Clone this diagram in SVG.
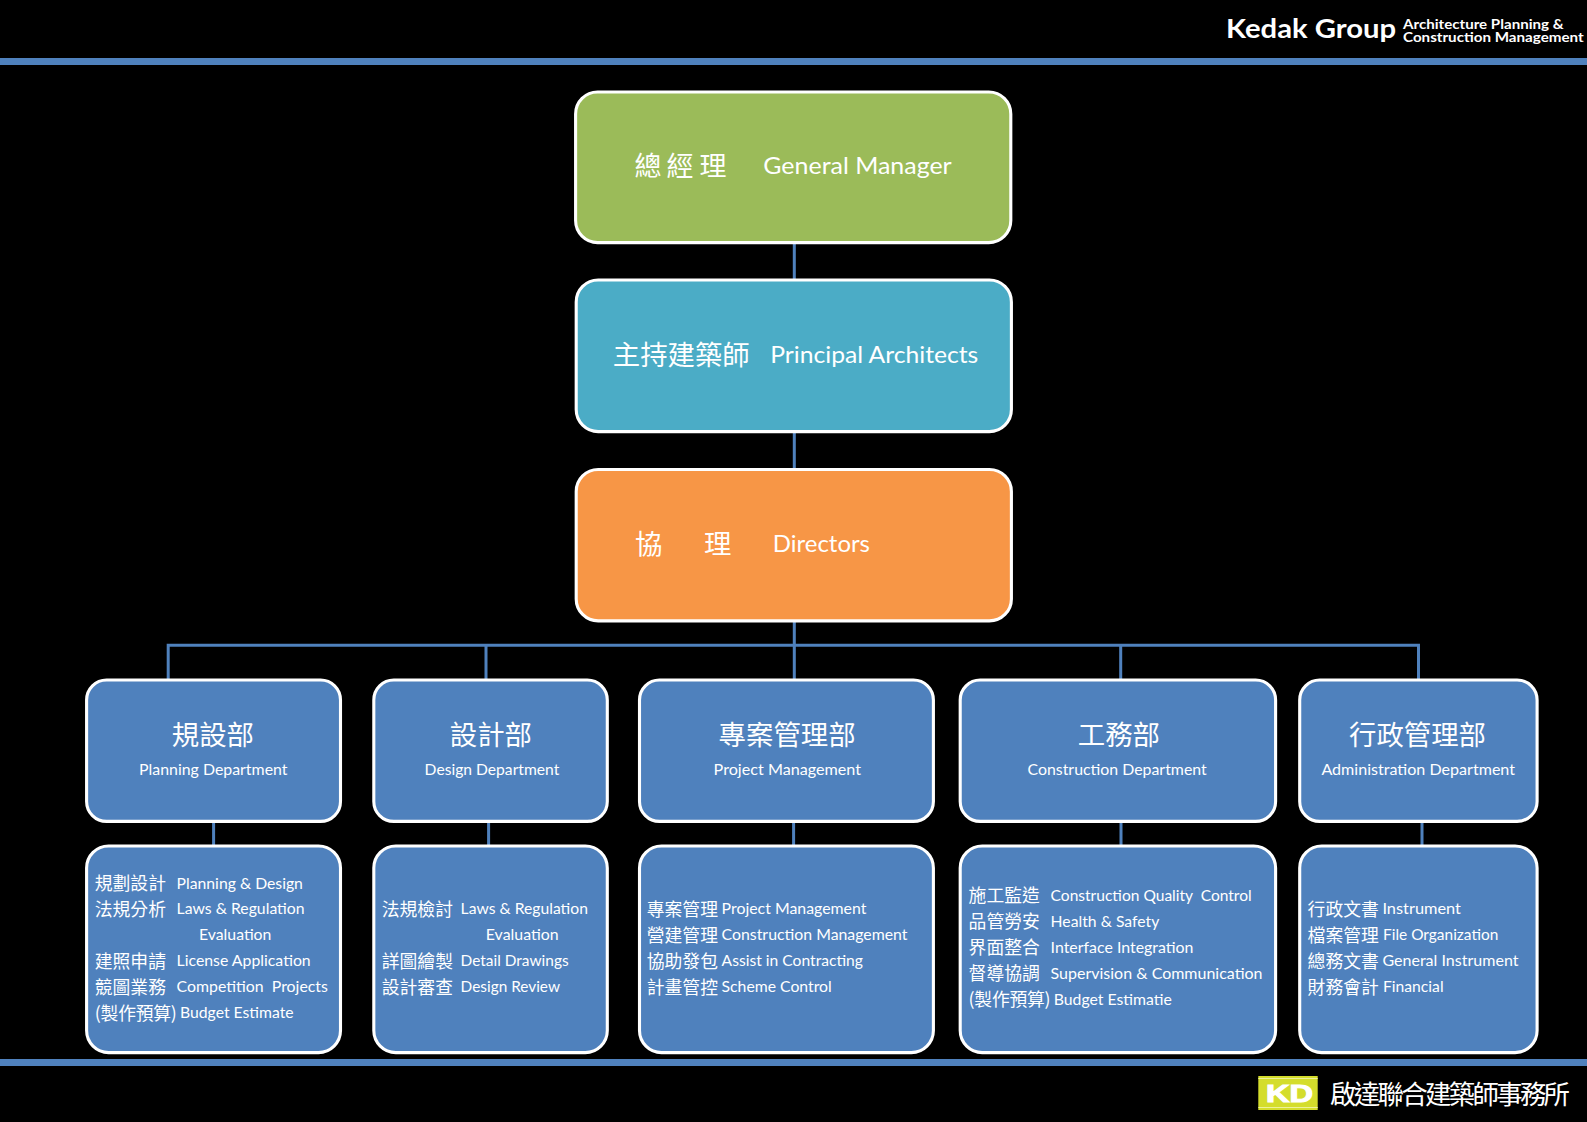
<svg xmlns="http://www.w3.org/2000/svg" width="1587" height="1122" viewBox="0 0 1587 1122">
<style>
text{fill:#fff;white-space:pre}
.en{font-family:"Lato","Liberation Sans",sans-serif;font-size:16px}
.big{font-size:24px}
.zh{font-family:"Noto Sans CJK TC","Noto Sans CJK SC",sans-serif;font-size:17.8px;font-weight:400}
.zhb{font-size:27.4px}
.box{stroke:#fff;stroke-width:3.1}
.blue{fill:#4f81bd}
.conn{stroke:#4f81bd;stroke-width:3;fill:none}
.band{fill:#4f81bd}
</style>
<rect width="1587" height="1122" fill="#000"/>
<g id="header">
<rect class="band" x="0" y="58" width="1587" height="7"/>
<text x="1226" y="38" textLength="170" lengthAdjust="spacingAndGlyphs" style="font-family:Lato,sans-serif;font-weight:700;font-size:27px">Kedak Group</text>
<text x="1403" y="29.3" textLength="160.7" lengthAdjust="spacingAndGlyphs" style="font-family:Lato,sans-serif;font-weight:700;font-size:13.5px">Architecture Planning &amp;</text>
<text x="1403" y="41.7" textLength="180.7" lengthAdjust="spacingAndGlyphs" style="font-family:Lato,sans-serif;font-weight:700;font-size:13.5px">Construction Management</text>
</g>
<g id="connectors">
<path class="conn" d="M794.3 243V279M794.3 432V469M794.3 622V679M168.2 679V645.3H1418.5V679M486 645.3V679M1120.7 645.3V679"/>
<path class="conn" d="M213.6 822V845M488.6 822V845M793.6 822V845M1121 822V845M1422 822V845"/>
</g>
<g id="general-manager">
<rect class="box" x="575.6" y="92" width="435.2" height="150.6" rx="22" fill="#9bbb59"/>
<text class="zh zhb" x="634.5 666.5 699.5" y="176" style="font-size:27px">總經理</text>
<text class="en big" x="763.3" y="174" textLength="188.4" lengthAdjust="spacingAndGlyphs">General Manager</text>
</g>
<g id="principal-architects">
<rect class="box" x="576.2" y="280" width="435.2" height="151.6" rx="22" fill="#4bacc6"/>
<text class="zh zhb" x="612.8" y="365">主持建築師</text>
<text class="en big" x="770.2" y="363.2" textLength="208.1" lengthAdjust="spacingAndGlyphs">Principal Architects</text>
</g>
<g id="directors">
<rect class="box" x="576.2" y="469.5" width="435.2" height="151.4" rx="22" fill="#f79646"/>
<text class="zh zhb" x="635 704" y="554">協理</text>
<text class="en big" x="772.8" y="552" textLength="97.2" lengthAdjust="spacingAndGlyphs">Directors</text>
</g>
<g id="dept-planning">
<rect class="box blue" x="86.6" y="680" width="253.9" height="141.4" rx="20"/>
<text class="zh zhb" x="171.8" y="745">規設部</text>
<text class="en" x="139" y="775" textLength="148.5" lengthAdjust="spacingAndGlyphs">Planning Department</text>
</g>
<g id="list-planning">
<rect class="box blue" x="86.6" y="846" width="253.9" height="206.6" rx="22"/>
<text class="zh" x="94.8" y="889.5">規劃設計</text>
<text class="en" x="176.6" y="888.5" textLength="126.3" lengthAdjust="spacingAndGlyphs">Planning &amp; Design</text>
<text class="zh" x="94.8" y="915.5">法規分析</text>
<text class="en" x="176.6" y="914.3" textLength="128" lengthAdjust="spacingAndGlyphs">Laws &amp; Regulation</text>
<text class="en" x="199" y="940.3" textLength="72.4" lengthAdjust="spacingAndGlyphs">Evaluation</text>
<text class="zh" x="94.8" y="967.5">建照申請</text>
<text class="en" x="176.6" y="966.3" textLength="134.1" lengthAdjust="spacingAndGlyphs">License Application</text>
<text class="zh" x="94.8" y="993.5">競圖業務</text>
<text class="en" x="176.6" y="992.3" textLength="151.3" lengthAdjust="spacingAndGlyphs">Competition  Projects</text>
<text class="zh" x="94.8" y="1019.5" textLength="82">(製作預算)</text>
<text class="en" x="180" y="1018.3" textLength="113.6" lengthAdjust="spacingAndGlyphs">Budget Estimate</text>
</g>
<g id="dept-design">
<rect class="box blue" x="373.8" y="680" width="233.5" height="141.4" rx="20"/>
<text class="zh zhb" x="449.8" y="745">設計部</text>
<text class="en" x="424.6" y="775" textLength="134.7" lengthAdjust="spacingAndGlyphs">Design Department</text>
</g>
<g id="list-design">
<rect class="box blue" x="373.8" y="846" width="233.5" height="206.6" rx="22"/>
<text class="zh" x="381.8" y="915.5">法規檢討</text>
<text class="en" x="460.6" y="914.3" textLength="127.3" lengthAdjust="spacingAndGlyphs">Laws &amp; Regulation</text>
<text class="en" x="485.8" y="940.3" textLength="72.8" lengthAdjust="spacingAndGlyphs">Evaluation</text>
<text class="zh" x="381.8" y="967.5">詳圖繪製</text>
<text class="en" x="460.6" y="966.3" textLength="108" lengthAdjust="spacingAndGlyphs">Detail Drawings</text>
<text class="zh" x="381.8" y="993.5">設計審查</text>
<text class="en" x="460.6" y="992.3" textLength="99.4" lengthAdjust="spacingAndGlyphs">Design Review</text>
</g>
<g id="dept-project">
<rect class="box blue" x="639.5" y="680" width="293.9" height="141.4" rx="20"/>
<text class="zh zhb" x="718.6" y="745">專案管理部</text>
<text class="en" x="713.6" y="775" textLength="147.4" lengthAdjust="spacingAndGlyphs">Project Management</text>
</g>
<g id="list-project">
<rect class="box blue" x="639.5" y="846" width="293.9" height="206.6" rx="22"/>
<text class="zh" x="646.8" y="915.5">專案管理</text>
<text class="en" x="721.6" y="914.3" textLength="144.8" lengthAdjust="spacingAndGlyphs">Project Management</text>
<text class="zh" x="646.8" y="941.5">營建管理</text>
<text class="en" x="721.6" y="940.3" textLength="185.9" lengthAdjust="spacingAndGlyphs">Construction Management</text>
<text class="zh" x="646.8" y="967.5">協助發包</text>
<text class="en" x="721.6" y="966.3" textLength="141.3" lengthAdjust="spacingAndGlyphs">Assist in Contracting</text>
<text class="zh" x="646.8" y="993.5">計畫管控</text>
<text class="en" x="721.6" y="992.3" textLength="110.2" lengthAdjust="spacingAndGlyphs">Scheme Control</text>
</g>
<g id="dept-construction">
<rect class="box blue" x="960.2" y="680" width="315.4" height="141.4" rx="20"/>
<text class="zh zhb" x="1077.8" y="745">工務部</text>
<text class="en" x="1027.5" y="775" textLength="179.2" lengthAdjust="spacingAndGlyphs">Construction Department</text>
</g>
<g id="list-construction">
<rect class="box blue" x="960.2" y="846" width="315.4" height="206.6" rx="22"/>
<text class="zh" x="968.6" y="902.2">施工監造</text>
<text class="en" x="1050.6" y="901" textLength="201.1" lengthAdjust="spacingAndGlyphs">Construction Quality  Control</text>
<text class="zh" x="968.6" y="928.2">品管勞安</text>
<text class="en" x="1050.6" y="927" textLength="108.7" lengthAdjust="spacingAndGlyphs">Health &amp; Safety</text>
<text class="zh" x="968.6" y="954.2">界面整合</text>
<text class="en" x="1050.6" y="953" textLength="142.9" lengthAdjust="spacingAndGlyphs">Interface Integration</text>
<text class="zh" x="968.6" y="980.2">督導協調</text>
<text class="en" x="1050.6" y="979" textLength="211.9" lengthAdjust="spacingAndGlyphs">Supervision &amp; Communication</text>
<text class="zh" x="968.6" y="1006.2" textLength="82">(製作預算)</text>
<text class="en" x="1053.8" y="1005" textLength="118" lengthAdjust="spacingAndGlyphs">Budget Estimatie</text>
</g>
<g id="dept-admin">
<rect class="box blue" x="1299.7" y="680" width="237.4" height="141.4" rx="20"/>
<text class="zh zhb" x="1349" y="745">行政管理部</text>
<text class="en" x="1321.4" y="775" textLength="193.6" lengthAdjust="spacingAndGlyphs">Administration Department</text>
</g>
<g id="list-admin">
<rect class="box blue" x="1299.7" y="846" width="237.4" height="206.6" rx="22"/>
<text class="zh" x="1307.6" y="915.5">行政文書</text>
<text class="en" x="1382.4" y="914.3" textLength="78.6" lengthAdjust="spacingAndGlyphs">Instrument</text>
<text class="zh" x="1307.6" y="941.5">檔案管理</text>
<text class="en" x="1383" y="940.3" textLength="115.3" lengthAdjust="spacingAndGlyphs">File Organization</text>
<text class="zh" x="1307.6" y="967.5">總務文書</text>
<text class="en" x="1382.4" y="966.3" textLength="136.1" lengthAdjust="spacingAndGlyphs">General Instrument</text>
<text class="zh" x="1307.6" y="993.5">財務會計</text>
<text class="en" x="1383" y="992.3" textLength="60.6" lengthAdjust="spacingAndGlyphs">Financial</text>
</g>
<g id="footer">
<rect class="band" x="0" y="1059" width="1587" height="7"/>
<rect x="1258.3" y="1076" width="59.4" height="34" fill="#d4dd2c"/>
<rect x="1258.3" y="1078" width="59.4" height="1" fill="#eef29a"/>
<rect x="1258.3" y="1107" width="59.4" height="1" fill="#eef29a"/>
<text x="1266" y="1101.5" textLength="47" lengthAdjust="spacingAndGlyphs" style="font-family:'Liberation Sans',sans-serif;font-weight:700;font-size:23px;stroke:#fff;stroke-width:1">KD</text>
<text class="zh" x="1330" y="1103.5" textLength="240" style="font-size:26.4px">啟達聯合建築師事務所</text>
</g>
</svg>
